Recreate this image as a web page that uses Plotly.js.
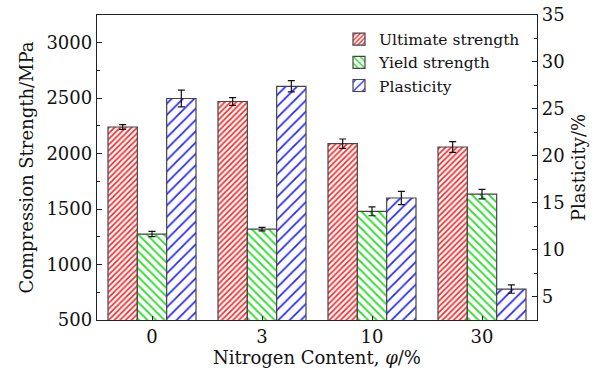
<!DOCTYPE html>
<html>
<head>
<meta charset="utf-8">
<script src="https://cdn.plot.ly/plotly-3.0.1.min.js"></script>
<style>html,body{margin:0;padding:0;background:#fff;}#chart{width:602px;height:376px;}</style>
</head>
<body>
<div id="chart"></div>
<script>
const categories = ['0', '3', '10', '30'];
const ultimateStrength = [2240, 2470, 2090, 2060];
const ultimateErr = [22, 35, 42, 48];
const yieldStrength = [1275, 1320, 1480, 1635];
const yieldErr = [24, 16, 40, 42];
const plasticity = [26.1, 27.4, 15.5, 5.8];
const plasticityErr = [0.9, 0.6, 0.7, 0.45];

const fontFam = 'DejaVu Serif';
const outline = {color: '#444', width: 1.2};
const errStyle = (arr) => ({type: 'data', array: arr, visible: true, color: '#111', thickness: 1.2, width: 3.5});

const traces = [
  {
    type: 'bar', name: 'Ultimate strength', x: categories, y: ultimateStrength,
    error_y: errStyle(ultimateErr), offsetgroup: 'a', yaxis: 'y',
    marker: {color: 'white', line: outline,
      pattern: {shape: '/', fgcolor: '#ff2020', bgcolor: 'white', size: 4, solidity: 0.4}}
  },
  {
    type: 'bar', name: 'Yield strength', x: categories, y: yieldStrength,
    error_y: errStyle(yieldErr), offsetgroup: 'b', yaxis: 'y',
    marker: {color: 'white', line: outline,
      pattern: {shape: '\\', fgcolor: '#22dd22', bgcolor: 'white', size: 6, solidity: 0.3}}
  },
  {
    type: 'bar', name: 'Plasticity', x: categories, y: plasticity,
    error_y: errStyle(plasticityErr), offsetgroup: 'c', yaxis: 'y2',
    marker: {color: 'white', line: outline,
      pattern: {shape: '/', fgcolor: '#2020ff', bgcolor: 'white', size: 8, solidity: 0.2}}
  }
];

const layout = {
  width: 602, height: 376,
  margin: {l: 97, r: 65, t: 15, b: 56},
  paper_bgcolor: 'white', plot_bgcolor: 'white',
  font: {family: fontFam, color: '#111', size: 18},
  barmode: 'group', bargap: 0.2, bargroupgap: 0,
  showlegend: true,
  legend: {x: 0.55, y: 0.975, xanchor: 'left', yanchor: 'top', bgcolor: 'rgba(0,0,0,0)',
    font: {family: fontFam, size: 15.5, color: '#111'}, tracegroupgap: 0, itemwidth: 30},
  xaxis: {
    type: 'category', categoryorder: 'array', categoryarray: categories,
    showline: true, linecolor: '#222', linewidth: 1.2, mirror: true,
    ticks: 'inside', ticklen: 4, tickcolor: '#222',
    showgrid: false, zeroline: false,
    tickfont: {family: fontFam, size: 18},
    title: {text: 'Nitrogen Content, <i>φ</i>/%', font: {family: fontFam, size: 18}, standoff: 0}
  },
  yaxis: {
    range: [500, 3250], dtick: 500, tick0: 0,
    showline: true, linecolor: '#222', linewidth: 1.2,
    ticks: 'inside', ticklen: 5, tickcolor: '#222',
    minor: {dtick: 250, ticks: 'inside', ticklen: 3, tickcolor: '#222', showgrid: false},
    showgrid: false, zeroline: false,
    tickfont: {family: fontFam, size: 18},
    title: {text: 'Compression Strength/MPa', font: {family: fontFam, size: 18}, standoff: 8}
  },
  yaxis2: {
    overlaying: 'y', side: 'right', anchor: 'x',
    range: [2.5, 35], dtick: 5, tick0: 0,
    showline: true, linecolor: '#222', linewidth: 1.2,
    ticks: 'inside', ticklen: 5, tickcolor: '#222',
    minor: {dtick: 2.5, ticks: 'inside', ticklen: 3, tickcolor: '#222', showgrid: false},
    showgrid: false, zeroline: false,
    tickfont: {family: fontFam, size: 18},
    title: {text: 'Plasticity/%', font: {family: fontFam, size: 18}, standoff: 8}
  }
};

Plotly.newPlot('chart', traces, layout, {displayModeBar: false, staticPlot: true});
</script>
</body>
</html>
